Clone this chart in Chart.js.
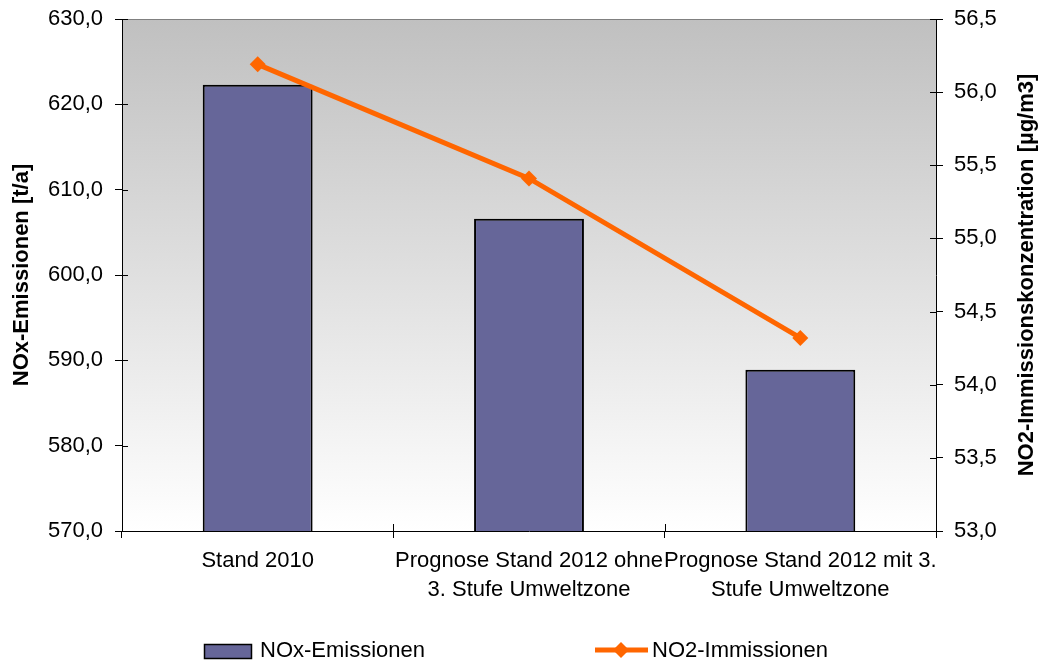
<!DOCTYPE html>
<html>
<head>
<meta charset="utf-8">
<script src="https://cdn.jsdelivr.net/npm/chart.js@4/dist/chart.umd.min.js"></script>
<style>
  html, body { margin: 0; padding: 0; background: #fff; }
  #wrap { width: 1038px; height: 661px; position: relative; }
</style>
</head>
<body>
<div id="wrap"><canvas id="chart"></canvas></div>
<script>
const categories = [
  'Stand 2010',
  ['Prognose Stand 2012 ohne', '3. Stufe Umweltzone'],
  ['Prognose Stand 2012 mit 3.', 'Stufe Umweltzone']
];
const noxEmissionen = [622.3, 606.6, 588.9];
const no2Immissionen = [56.19, 55.41, 54.32];
const leftTicks = { min: 570, max: 630, step: 10 };
const rightTicks = { min: 53, max: 56.5, step: 0.5 };

const FONT = "'Liberation Sans', Arial, sans-serif";
const barColor = '#666699';
const lineColor = '#ff6600';

const fmt = v => Number(v).toFixed(1).replace('.', ',');

// background, inner tick halves, right title, legend
const decor = {
  id: 'decor',
  beforeDraw(chart) {
    const { ctx, chartArea: a } = chart;
    const g = ctx.createLinearGradient(0, a.top, 0, a.bottom);
    g.addColorStop(0, '#c0c0c0');
    g.addColorStop(1, '#ffffff');
    ctx.save();
    ctx.fillStyle = g;
    ctx.fillRect(a.left, a.top, a.right - a.left, a.bottom - a.top);
    ctx.restore();
  },
  afterDraw(chart) {
    const { ctx, chartArea: a, scales } = chart;
    ctx.save();
    // gray top border of plot area
    ctx.strokeStyle = '#808080';
    ctx.lineWidth = 1;
    ctx.beginPath();
    ctx.moveTo(a.left, a.top + 0.5);
    ctx.lineTo(a.right, a.top + 0.5);
    ctx.stroke();

    // inner halves of the cross ticks
    ctx.strokeStyle = '#000';
    ctx.beginPath();
    scales.y.ticks.forEach((t, i) => {
      const y = Math.round(scales.y.getPixelForTick(i)) + 0.5;
      ctx.moveTo(a.left, y); ctx.lineTo(a.left + 6, y);
    });
    scales.y2.ticks.forEach((t, i) => {
      const y = Math.round(scales.y2.getPixelForTick(i)) + 0.5;
      ctx.moveTo(a.right - 6, y); ctx.lineTo(a.right, y);
    });
    for (let i = 1; i < categories.length; i++) {
      const x = Math.round((scales.x.getPixelForTick(i - 1) + scales.x.getPixelForTick(i)) / 2) + 0.5;
      ctx.moveTo(x, a.bottom - 7); ctx.lineTo(x, a.bottom);
    }
    ctx.stroke();

    // right axis title (reads bottom to top)
    ctx.save();
    ctx.translate(1027, (a.top + a.bottom) / 2);
    ctx.rotate(-Math.PI / 2);
    ctx.font = 'bold 22px ' + FONT;
    ctx.fillStyle = '#000';
    ctx.textAlign = 'center';
    ctx.textBaseline = 'middle';
    ctx.fillText('NO2-Immissionskonzentration [µg/m3]', 0, 0);
    ctx.restore();

    // legend
    const ds = chart.data.datasets;
    const bar = ds.find(d => d.type === 'bar');
    const line = ds.find(d => d.type === 'line');
    ctx.font = '22px ' + FONT;
    ctx.textBaseline = 'middle';
    ctx.textAlign = 'left';
    const ly = 651;
    ctx.fillStyle = bar.backgroundColor;
    ctx.fillRect(204, 644, 47, 14);
    ctx.strokeStyle = '#000';
    ctx.lineWidth = 1.5;
    ctx.strokeRect(204.5, 644.5, 47, 14);
    ctx.fillStyle = '#000';
    ctx.fillText(bar.label, 260, ly);

    ctx.strokeStyle = line.borderColor;
    ctx.lineWidth = 5;
    ctx.beginPath();
    ctx.moveTo(595, 650); ctx.lineTo(648, 650);
    ctx.stroke();
    ctx.fillStyle = line.borderColor;
    ctx.beginPath();
    ctx.moveTo(621, 642); ctx.lineTo(629, 650); ctx.lineTo(621, 658); ctx.lineTo(613, 650);
    ctx.closePath();
    ctx.fill();
    ctx.fillStyle = '#000';
    ctx.fillText(line.label, 652, ly);
    ctx.restore();
  }
};

const ctx = document.getElementById('chart').getContext('2d');
new Chart(ctx, {
  data: {
    labels: categories,
    datasets: [
      {
        type: 'line',
        label: 'NO2-Immissionen',
        data: no2Immissionen,
        yAxisID: 'y2',
        borderColor: lineColor,
        backgroundColor: lineColor,
        borderWidth: 5,
        pointStyle: 'rectRot',
        pointRadius: 8,
        pointHoverRadius: 8,
        pointBorderWidth: 0,
        tension: 0,
        order: 0
      },
      {
        type: 'bar',
        label: 'NOx-Emissionen',
        data: noxEmissionen,
        yAxisID: 'y',
        backgroundColor: barColor,
        borderColor: '#000',
        borderWidth: 2,
        categoryPercentage: 1,
        barPercentage: 0.405,
        order: 1
      }
    ]
  },
  options: {
    responsive: true,
    maintainAspectRatio: false,
    animation: false,
    layout: { padding: { top: 19, left: 0, right: 0, bottom: 0 } },
    plugins: { legend: { display: false }, tooltip: { enabled: false } },
    scales: {
      x: {
        afterFit: s => { s.height = 130; },
        grid: { offset: true, drawOnChartArea: false, drawTicks: true, tickLength: 7, color: '#000' },
        border: { color: '#000', width: 1 },
        ticks: {
          color: '#000', padding: 9, maxRotation: 0, minRotation: 0, autoSkip: false,
          font: { family: FONT, size: 22, lineHeight: 1.3 }
        }
      },
      y: {
        position: 'left',
        min: leftTicks.min, max: leftTicks.max,
        afterFit: s => { s.width = 122; s.paddingTop = 0; s.paddingBottom = 0; },
        grid: { drawOnChartArea: false, drawTicks: true, tickLength: 7, color: '#000' },
        border: { color: '#000', width: 1 },
        ticks: {
          stepSize: leftTicks.step, color: '#000', padding: 12,
          font: { family: FONT, size: 22 },
          callback: v => fmt(v)
        },
        title: {
          display: true, text: 'NOx-Emissionen [t/a]', color: '#000',
          padding: { top: 9, bottom: 0 },
          font: { family: FONT, size: 22, weight: 'bold', lineHeight: 1.2 }
        }
      },
      y2: {
        position: 'right',
        min: rightTicks.min, max: rightTicks.max,
        afterFit: s => { s.width = 102; s.paddingTop = 0; s.paddingBottom = 0; },
        grid: { drawOnChartArea: false, drawTicks: true, tickLength: 7, color: '#000' },
        border: { color: '#000', width: 1 },
        ticks: {
          stepSize: rightTicks.step, color: '#000', padding: 11,
          font: { family: FONT, size: 22 },
          callback: v => fmt(v)
        }
      }
    }
  },
  plugins: [decor]
});
</script>
</body>
</html>
